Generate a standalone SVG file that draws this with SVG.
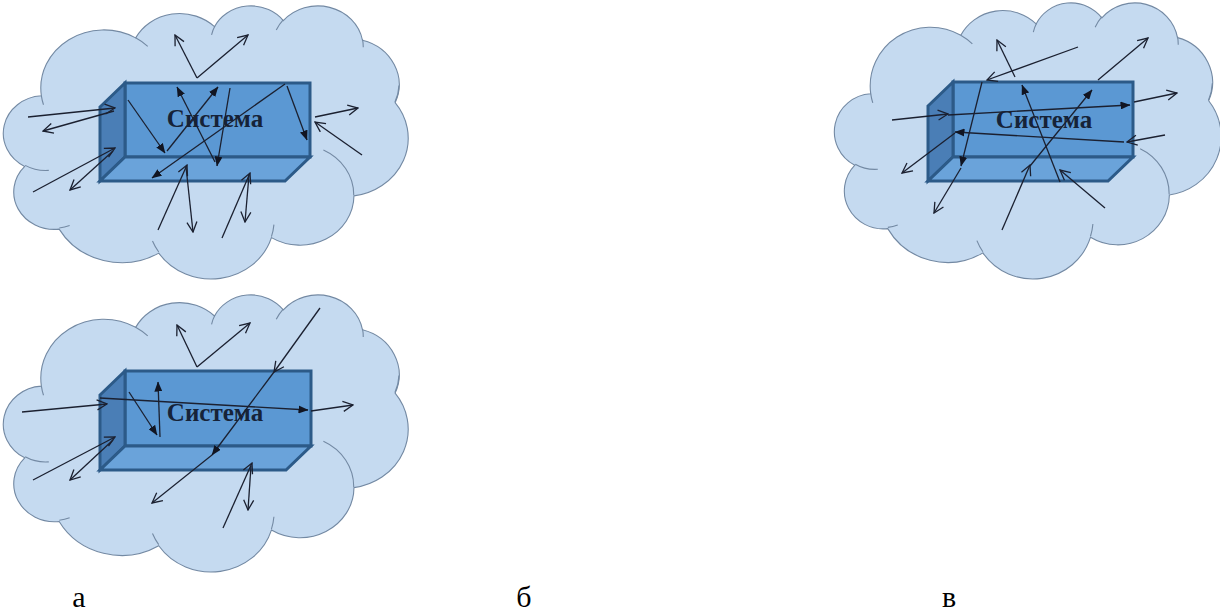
<svg xmlns="http://www.w3.org/2000/svg" xmlns:xlink="http://www.w3.org/1999/xlink" width="1220" height="613" viewBox="0 0 1220 613">
<style>
.cloud{fill:#c5daf0;stroke:#7389a3;stroke-width:1.1;vector-effect:non-scaling-stroke}
.cloudin{fill:none;stroke:#7389a3;stroke-width:1.1;vector-effect:non-scaling-stroke}
.front{fill:#5b98d3;stroke:#2c5a88;stroke-width:3;stroke-linejoin:miter}
.side{fill:#4a7eb6;stroke:#2c5a88;stroke-width:3;stroke-linejoin:miter}
.bottom{fill:#6aa3da;stroke:#2c5a88;stroke-width:3;stroke-linejoin:miter}
.title{font-family:"Liberation Serif","Times New Roman",serif;font-weight:bold;font-size:25px;fill:#162338;text-anchor:middle}
.label{font-family:"Liberation Serif","Times New Roman",serif;font-size:30px;fill:#000;text-anchor:middle}
.a{stroke:#1b2030;stroke-width:1.3;fill:none}
.o{marker-end:url(#open)}
.f{marker-end:url(#fill)}
</style>
<defs>
<marker id="open" viewBox="0 0 12 12" refX="11" refY="6" markerWidth="12" markerHeight="12" markerUnits="userSpaceOnUse" orient="auto">
<path d="M1,1 L11,6 L1,11" fill="none" stroke="#1b2030" stroke-width="1.3"/>
</marker>
<marker id="fill" viewBox="0 0 10 8" refX="9.5" refY="4" markerWidth="10" markerHeight="8" markerUnits="userSpaceOnUse" orient="auto">
<path d="M0,0 L10,4 L0,8 z" fill="#111522"/>
</marker>
<path id="cloudOutline" class="cloud" d="M3900 14370 A6753 9190 0 0 1 14005 5202 A5333 7267 0 0 1 22456 3432 A4365 5945 0 0 1 29833 2481 A4857 6595 0 0 1 38319 5576 A5333 7273 0 0 1 41819 15460 A6775 9220 0 0 1 37405 30203 A5785 7867 0 0 1 28557 36814 A6752 9215 0 0 1 16481 39264 A7720 10543 0 0 1 5806 35470 A4360 5918 0 0 1 2114 25548 A4345 5945 0 0 1 3900 14370 Z"/>
<path id="cloudInner" class="cloudin" d="M4693 26177 A4345 5945 0 0 1 2160 25380 M6928 34899 A4360 5918 0 0 1 5820 35281 M16478 39090 A6752 9215 0 0 1 15810 37350 M28827 34751 A6752 9215 0 0 1 28560 36660 M34129 22954 A5785 7867 0 0 1 37380 30090 M41798 15354 A5333 7273 0 0 0 42227 12727 M38324 5426 A4857 6595 0 0 1 38400 6690 M29078 3952 A4857 6595 0 0 1 29820 2341 M22141 4720 A4365 5945 0 0 1 22500 3330 M14000 5192 A6753 9190 0 0 1 15300 6540 M4127 15789 A6753 9190 0 0 1 3900 14370"/>
</defs>

<g id="panel-a">
<g id="cloud-a" transform="translate(5,5) scale(0.009329,0.0063194)">
<use xlink:href="#cloudOutline"/><use xlink:href="#cloudInner"/>
</g>
<g id="system-a">
<path class="front" d="M125,83 H310 V157 H125 Z"/>
<path class="side" d="M100,107 L125,83 L125,157 L100,181 Z"/>
<path class="bottom" d="M125,157 L310,157 L285,181 L100,181 Z"/>
<text class="title" x="215" y="127">Система</text>
</g>
</g>

<g id="panel-b">
<g id="cloud-b" transform="translate(5,294) scale(0.009329,0.006412)">
<use xlink:href="#cloudOutline"/><use xlink:href="#cloudInner"/>
</g>
<g id="system-b">
<path class="front" d="M125,371 H311 V446 H125 Z"/>
<path class="side" d="M100,395 L125,371 L125,446 L100,470 Z"/>
<path class="bottom" d="M125,446 L311,446 L286,470 L100,470 Z"/>
<text class="title" x="215" y="421">Система</text>
</g>
</g>

<g id="panel-c">
<g id="cloud-c" transform="translate(836,2) scale(0.008912,0.006389)">
<use xlink:href="#cloudOutline"/><use xlink:href="#cloudInner"/>
</g>
<g id="system-c">
<path class="front" d="M953,82 H1133 V157 H953 Z"/>
<path class="side" d="M928,106 L953,82 L953,157 L928,181 Z"/>
<path class="bottom" d="M953,157 L1133,157 L1108,181 L928,181 Z"/>
<text class="title" x="1044" y="128">Система</text>
</g>
</g>

<g id="connectors" class="a">
<!-- panel a -->
<line class="o" x1="197" y1="78" x2="175" y2="35"/>
<line class="o" x1="197" y1="78" x2="248" y2="35"/>
<line class="o" x1="28" y1="117" x2="115" y2="108"/>
<line class="o" x1="114" y1="111" x2="43" y2="131"/>
<line class="o" x1="33" y1="192" x2="115" y2="148"/>
<line class="o" x1="113" y1="151" x2="70" y2="190"/>
<line class="f" x1="128" y1="100" x2="165" y2="153"/>
<line class="f" x1="167" y1="151" x2="218" y2="87"/>
<line class="f" x1="215" y1="162" x2="177" y2="87"/>
<line class="f" x1="230" y1="88" x2="217" y2="166"/>
<line class="f" x1="285" y1="84" x2="152" y2="178"/>
<line class="f" x1="287" y1="86" x2="307" y2="140"/>
<line class="o" x1="315" y1="117" x2="358" y2="108"/>
<line class="o" x1="362" y1="155" x2="315" y2="122"/>
<line class="o" x1="158" y1="230" x2="187" y2="165"/>
<line class="o" x1="186" y1="167" x2="193" y2="232"/>
<line class="o" x1="222" y1="238" x2="250" y2="173"/>
<line class="o" x1="249" y1="175" x2="245" y2="222"/>
<!-- panel b -->
<line class="o" x1="197" y1="367" x2="177" y2="325"/>
<line class="o" x1="197" y1="367" x2="250" y2="323"/>
<line class="o" x1="22" y1="412" x2="107" y2="404"/>
<line class="f" x1="100" y1="398" x2="308" y2="410"/>
<line class="o" x1="311" y1="411" x2="353" y2="405"/>
<line class="f" x1="129" y1="392" x2="157" y2="435"/>
<line class="f" x1="160" y1="437" x2="158" y2="382"/>
<line class="o" x1="33" y1="480" x2="115" y2="437"/>
<line class="o" x1="113" y1="440" x2="70" y2="480"/>
<line class="o" x1="320" y1="308" x2="274" y2="372"/>
<line class="f" x1="274" y1="372" x2="212" y2="455"/>
<line class="o" x1="212" y1="455" x2="152" y2="503"/>
<line class="o" x1="223" y1="528" x2="252" y2="463"/>
<line class="o" x1="251" y1="466" x2="248" y2="510"/>
<!-- panel c -->
<line class="o" x1="1078" y1="47" x2="987" y2="80"/>
<line class="f" x1="982" y1="82" x2="961" y2="166"/>
<line class="o" x1="961" y1="168" x2="934" y2="213"/>
<line class="o" x1="892" y1="120" x2="948" y2="114"/>
<line class="f" x1="948" y1="115" x2="1130" y2="105"/>
<line class="o" x1="1134" y1="102" x2="1177" y2="93"/>
<line class="o" x1="1165" y1="135" x2="1127" y2="142"/>
<line class="f" x1="1124" y1="142" x2="955" y2="132"/>
<line class="o" x1="955" y1="133" x2="902" y2="173"/>
<line class="o" x1="1002" y1="230" x2="1030" y2="165"/>
<line class="f" x1="1030" y1="166" x2="1092" y2="90"/>
<line class="o" x1="1098" y1="80" x2="1148" y2="38"/>
<line class="o" x1="1105" y1="208" x2="1060" y2="170"/>
<line class="f" x1="1060" y1="182" x2="1022" y2="85"/>
<line class="o" x1="1015" y1="77" x2="997" y2="40"/>
</g>

<g id="labels">
<text class="label" x="79" y="607">а</text>
<text class="label" x="524" y="607">б</text>
<text class="label" x="949" y="607">в</text>
</g>
</svg>
